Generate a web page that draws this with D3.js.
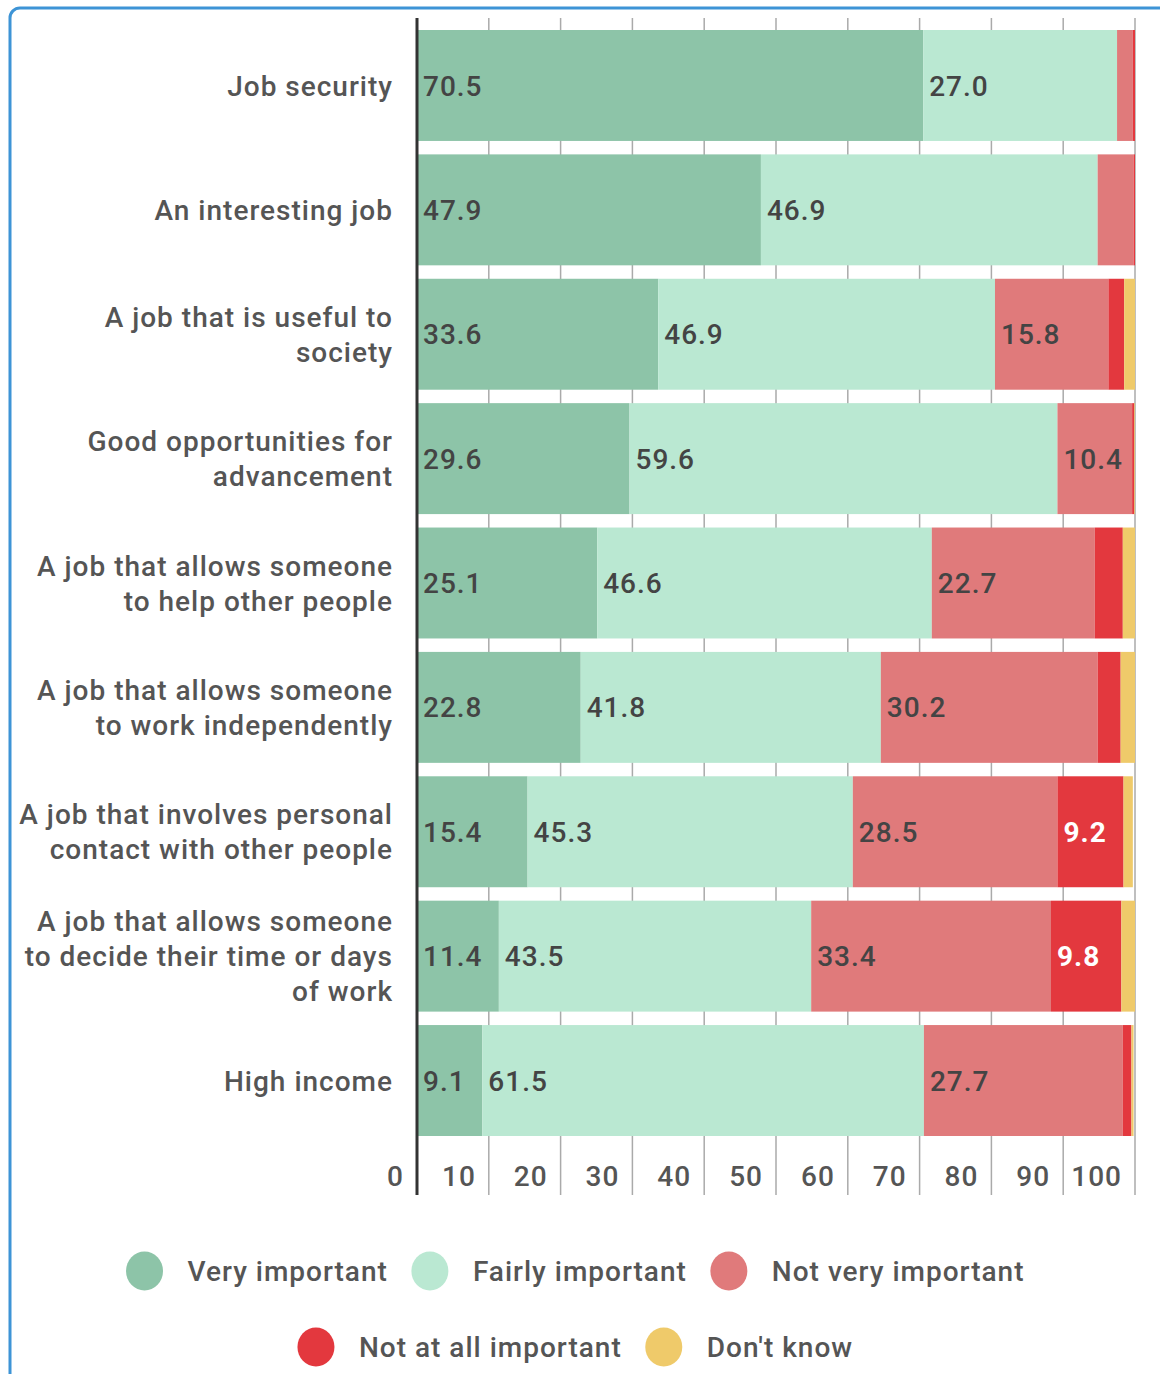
<!DOCTYPE html>
<html>
<head>
<meta charset="utf-8">
<script src="https://cdn.jsdelivr.net/npm/d3@7"></script>
<style>
  html, body { margin: 0; padding: 0; background: #fff; }
  svg { display: block; font-family: Roboto, "Noto Sans", sans-serif; font-weight: 500; letter-spacing: 1px; }
</style>
</head>
<body>
<svg id="chart" width="1160" height="1374"></svg>
<script>
// Survey: how important is each job characteristic (percent of respondents)
const categories = [
  ["Job security"],
  ["An interesting job"],
  ["A job that is useful to", "society"],
  ["Good opportunities for", "advancement"],
  ["A job that allows someone", "to help other people"],
  ["A job that allows someone", "to work independently"],
  ["A job that involves personal", "contact with other people"],
  ["A job that allows someone", "to decide their time or days", "of work"],
  ["High income"]
];
const seriesNames = ["Very important", "Fairly important", "Not very important", "Not at all important", "Don't know"];
const veryImportant    = [70.5, 47.9, 33.6, 29.6, 25.1, 22.8, 15.4, 11.4, 9.1];
const fairlyImportant  = [27.0, 46.9, 46.9, 59.6, 46.6, 41.8, 45.3, 43.5, 61.5];
const notVeryImportant = [2.2, 5.0, 15.8, 10.4, 22.7, 30.2, 28.5, 33.4, 27.7];
const notAtAll         = [0.3, 0.2, 2.2, 0.3, 3.9, 3.2, 9.2, 9.8, 1.2];
const dontKnow         = [0.0, 0.0, 1.5, 0.1, 1.7, 2.0, 1.3, 1.9, 0.3];
const tickValues = [0, 10, 20, 30, 40, 50, 60, 70, 80, 90, 100];
const colors = ["#8dc4a8", "#bae8d2", "#e07a7b", "#e3383e", "#efca6a"];
const labelColors = ["#444", "#444", "#444", "#fff", "#444"];

const seriesValues = [veryImportant, fairlyImportant, notVeryImportant, notAtAll, dontKnow];
const rows = categories.map((c, i) => {
  const o = { key: i };
  seriesNames.forEach((s, j) => { o[s] = seriesValues[j][i]; });
  return o;
});
const stacked = d3.stack().keys(seriesNames)(rows);

const svg = d3.select("#chart");
const fontSize = 28;

// frame
svg.append("rect")
  .attr("x", 10).attr("y", 8)
  .attr("width", 1300).attr("height", 1500)
  .attr("rx", 10)
  .attr("fill", "none")
  .attr("stroke", "#3d94d6")
  .attr("stroke-width", 3);

const x = d3.scaleLinear().domain([0, 100]).range([417, 1135]);
const y = d3.scaleBand().domain(d3.range(categories.length)).range([30, 1136]).paddingInner(0.108).paddingOuter(0);

const gridTop = 18, gridBottom = 1195;

// vertical gridlines
svg.append("g").selectAll("line")
  .data(tickValues.slice(1))
  .join("line")
  .attr("x1", d => x(d)).attr("x2", d => x(d))
  .attr("y1", gridTop).attr("y2", gridBottom)
  .attr("stroke", "#aaa").attr("stroke-width", 1.5);

// stacked bars
const layers = svg.append("g").selectAll("g")
  .data(stacked)
  .join("g")
  .attr("fill", (d, i) => colors[i]);

layers.selectAll("rect")
  .data(d => d)
  .join("rect")
  .attr("x", d => x(d[0]))
  .attr("y", (d, i) => y(i))
  .attr("width", d => Math.max(0, x(d[1]) - x(d[0])))
  .attr("height", y.bandwidth());

// value labels
const labels = svg.append("g")
  .style("font-size", fontSize + "px");
stacked.forEach((layer, si) => {
  labels.append("g").selectAll("text")
    .data(layer.filter(d => (d[1] - d[0]) >= 9))
    .join("text")
    .attr("x", d => x(d[0]) + 6)
    .attr("y", d => y(d.data.key) + y.bandwidth() / 2)
    .attr("dy", "0.36em")
    .attr("fill", labelColors[si])
    .attr("font-weight", si === 3 ? 700 : 500)
    .text(d => (d[1] - d[0]).toFixed(1));
});

// axis line
svg.append("line")
  .attr("x1", x(0)).attr("x2", x(0))
  .attr("y1", gridTop).attr("y2", gridBottom)
  .attr("stroke", "#333").attr("stroke-width", 3);

// tick labels, set to the left of each tick
svg.append("g").selectAll("text")
  .data(tickValues)
  .join("text")
  .attr("x", d => x(d) - 13)
  .attr("y", 1176)
  .attr("dy", "0.36em")
  .attr("text-anchor", "end")
  .attr("fill", "#555")
  .style("font-size", fontSize + "px")
  .text(d => d);

// category labels
const lineH = 35;
const cat = svg.append("g").selectAll("text")
  .data(categories)
  .join("text")
  .attr("text-anchor", "end")
  .attr("fill", "#555")
  .style("font-size", fontSize + "px");
cat.each(function (lines, i) {
  const cy = y(i) + y.bandwidth() / 2;
  const start = cy - (lines.length - 1) * lineH / 2;
  d3.select(this).selectAll("tspan")
    .data(lines)
    .join("tspan")
    .attr("x", 393)
    .attr("y", (d, k) => start + k * lineH)
    .attr("dy", "0.36em")
    .text(d => d);
});

// legend
const legend = svg.append("g").style("font-size", fontSize + "px");
const legendRows = [[0, 1, 2], [3, 4]];
const legendY = [1271, 1347];
const r = 19, textGap = 43, itemGap = 23;
const measure = legend.append("text").attr("visibility", "hidden");
function textW(s) { measure.text(s); return measure.node().getComputedTextLength(); }
legendRows.forEach((idxs, ri) => {
  const widths = idxs.map(i => r + textGap + textW(seriesNames[i]));
  const total = d3.sum(widths) + itemGap * (idxs.length - 1);
  let cx = 575 - total / 2;
  idxs.forEach((i, k) => {
    const g = legend.append("g").attr("transform", `translate(${cx + r},${legendY[ri]})`);
    g.append("ellipse").attr("rx", r - 0.5).attr("ry", r + 0.5).attr("fill", colors[i]);
    g.append("text").attr("x", textGap).attr("dy", "0.36em").attr("fill", "#555").text(seriesNames[i]);
    cx += widths[k] + itemGap;
  });
});
measure.remove();
</script>
</body>
</html>
